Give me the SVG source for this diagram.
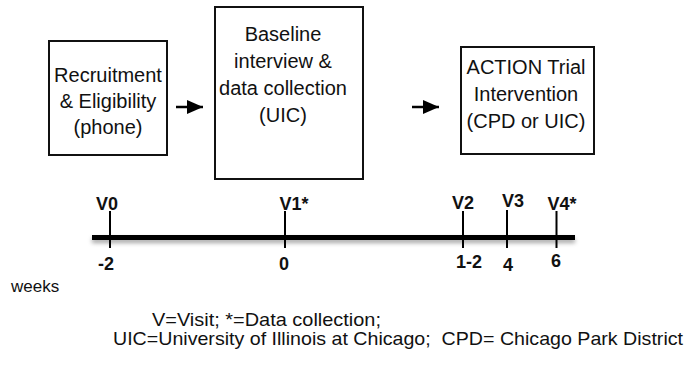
<svg xmlns="http://www.w3.org/2000/svg" width="689" height="370" viewBox="0 0 689 370">
<style>
.box{fill:#fff;stroke:#111;stroke-width:2}
.t{font-family:"Liberation Sans",Arial,sans-serif;font-size:20px;fill:#111;text-anchor:middle}
.b{font-family:"Liberation Sans",Arial,sans-serif;font-size:18px;font-weight:bold;fill:#111;text-anchor:middle}
.s{font-family:"Liberation Sans",Arial,sans-serif;font-size:17px;fill:#111}
.l{font-family:"Liberation Sans",Arial,sans-serif;font-size:19px;fill:#111}
.shaft{stroke:#000;stroke-width:2.5}
.tick{stroke:#000;stroke-width:2}
</style>
<defs>
<marker id="ah" markerWidth="16" markerHeight="14" refX="16" refY="7" orient="auto" markerUnits="userSpaceOnUse">
<path d="M0,0 L16,7 L0,14 Z" fill="#000"/>
</marker>
<filter id="sh" filterUnits="userSpaceOnUse" x="80" y="225" width="510" height="30">
<feDropShadow dx="0" dy="3" stdDeviation="2" flood-color="#000" flood-opacity="0.35"/>
</filter>
</defs>
<rect width="689" height="370" fill="#fff"/>
<g id="recruitment">
<rect class="box" x="49" y="41" width="118" height="114"/>
<text class="t" x="108" y="82">Recruitment</text>
<text class="t" x="108" y="108">&amp; Eligibility</text>
<text class="t" x="108" y="134">(phone)</text>
</g>
<g id="baseline">
<rect class="box" x="215" y="7" width="148" height="172"/>
<text class="t" x="283" y="41">Baseline</text>
<text class="t" x="283" y="68">interview &amp;</text>
<text class="t" x="283" y="95">data collection</text>
<text class="t" x="283" y="122">(UIC)</text>
</g>
<g id="intervention">
<rect class="box" x="461" y="47" width="133" height="107"/>
<text class="t" x="526" y="74">ACTION Trial</text>
<text class="t" x="526" y="101">Intervention</text>
<text class="t" x="526" y="128">(CPD or UIC)</text>
</g>
<g id="connectors">
<line class="shaft" x1="176" y1="107" x2="203" y2="107" marker-end="url(#ah)"/>
<line class="shaft" x1="412" y1="107" x2="439" y2="107" marker-end="url(#ah)"/>
</g>
<g id="timeline">
<rect x="92" y="235" width="483" height="5" fill="#000" filter="url(#sh)"/>
<line class="tick" x1="110" y1="211" x2="110" y2="248"/>
<line class="tick" x1="285" y1="211" x2="285" y2="248"/>
<line class="tick" x1="463" y1="211" x2="463" y2="248"/>
<line class="tick" x1="507" y1="210" x2="507" y2="248"/>
<line class="tick" x1="556.5" y1="211" x2="556.5" y2="248"/>
<text class="b" x="107" y="210">V0</text>
<text class="b" x="294" y="210">V1*</text>
<text class="b" x="463" y="209">V2</text>
<text class="b" x="513" y="207">V3</text>
<text class="b" x="562" y="210">V4*</text>
<text class="b" x="106" y="270">-2</text>
<text class="b" x="284" y="270">0</text>
<text class="b" x="469" y="268">1-2</text>
<text class="b" x="508" y="271">4</text>
<text class="b" x="556" y="267">6</text>
<text class="s" x="11" y="292">weeks</text>
</g>
<g id="legend">
<text class="l" x="152" y="326" textLength="229" lengthAdjust="spacingAndGlyphs">V=Visit; *=Data collection;</text>
<text class="l" x="113" y="345" xml:space="preserve" textLength="570" lengthAdjust="spacingAndGlyphs">UIC=University of Illinois at Chicago;  CPD= Chicago Park District</text>
</g>
</svg>
